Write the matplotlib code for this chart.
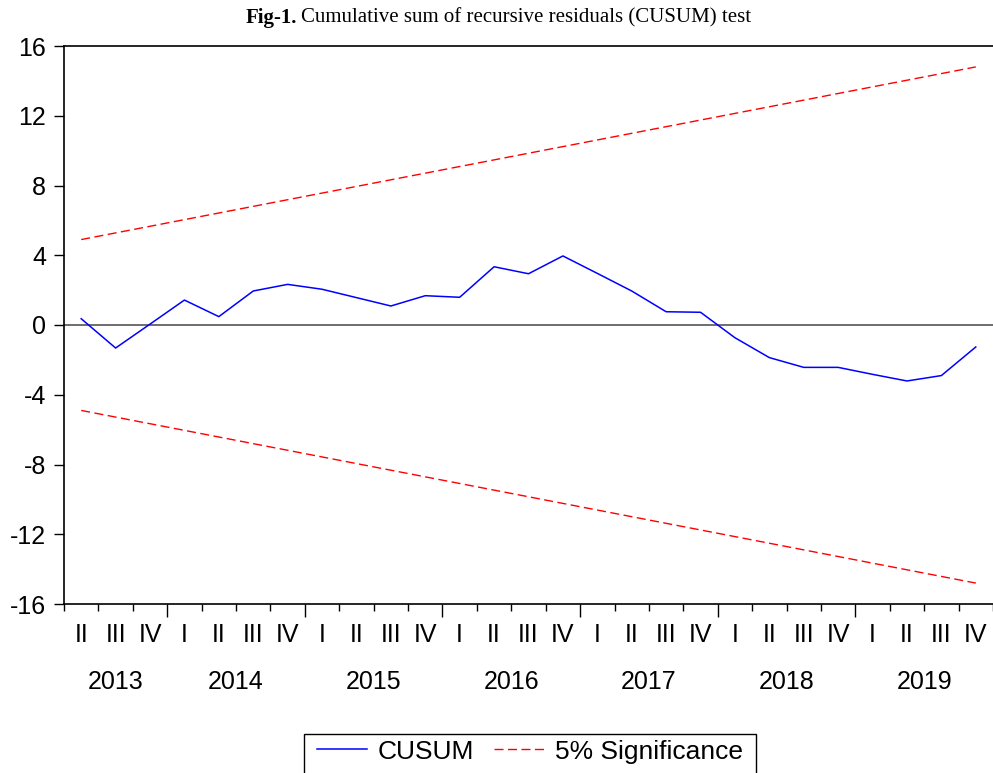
import matplotlib.pyplot as plt
from matplotlib.patches import Rectangle
from matplotlib.transforms import blended_transform_factory, offset_copy

plt.rcParams['font.family'] = ['Liberation Sans', 'DejaVu Sans']
plt.rcParams['axes.unicode_minus'] = False

# Quarterly CUSUM values, 2013Q2 .. 2019Q4
quarters = ['II', 'III', 'IV'] + ['I', 'II', 'III', 'IV'] * 6
years = ['2013', '2014', '2015', '2016', '2017', '2018', '2019']
cusum = [0.36, -1.32, 0.05, 1.43, 0.48, 1.95, 2.33, 2.05, 1.57, 1.09,
         1.68, 1.59, 3.34, 2.94, 3.96, 2.96, 1.95, 0.76, 0.73, -0.73,
         -1.87, -2.43, -2.43, -2.83, -3.21, -2.90, -1.26]
# 5% bounds (straight lines from first to last observation)
bound_idx = [0, 26]
upper = [4.9, 14.8]
lower = [-4.9, -14.8]

x = list(range(len(cusum)))

fig = plt.figure(figsize=(9.93, 7.73), dpi=100)
ax = fig.add_axes([64 / 993, 1 - 604 / 773, 1 - 64 / 993, (604 - 46) / 773])

dash = (0, (6.5, 3.2))
ax.axhline(0, color='#6e6e6e', lw=1.4, zorder=1)
ax.plot(x, cusum, color='#0000ff', lw=1.1, label='CUSUM', zorder=3)
ax.plot(bound_idx, upper, color='#ff0000', lw=1.0, ls=dash,
        label='5% Significance', zorder=2)
ax.plot(bound_idx, lower, color='#ff0000', lw=1.0, ls=dash, zorder=2)

ax.set_xlim(-0.5, len(cusum) - 0.5)
ax.set_ylim(-16, 16)
ax.set_yticks(range(-16, 17, 4))
ax.tick_params(axis='y', direction='out', length=7, width=1, labelsize=18, pad=6)

# x ticks at quarter boundaries, long ticks at year boundaries
year_starts = [i for i, q in enumerate(quarters) if q == 'I']
ax.set_xticks([i - 0.5 for i in year_starts])
ax.set_xticks([i - 0.5 for i in range(len(cusum) + 1)], minor=True)
ax.set_xticklabels([])
ax.tick_params(axis='x', which='major', direction='out', length=9, width=1)
ax.tick_params(axis='x', which='minor', direction='out', length=5, width=1)

ax.spines['right'].set_visible(False)
for s in ['left', 'top', 'bottom']:
    ax.spines[s].set_linewidth(1.2)

tr = blended_transform_factory(ax.transData, fig.transFigure)
for i, q in enumerate(quarters):
    ax.text(i, 1 - 635 / 773, q, transform=tr, ha='center', va='center',
            fontsize=18)
bounds = [-0.5] + [i - 0.5 for i in year_starts] + [len(cusum) - 0.5]
for k, yr in enumerate(years):
    cx = (bounds[k] + bounds[k + 1]) / 2
    ax.text(cx, 1 - 682 / 773, yr, transform=tr, ha='center', va='center',
            fontsize=18)

# title: bold "Fig-1." followed by regular text
t1 = fig.text(246 / 993, 1 - 18 / 773, 'Fig-1.', ha='left', va='center',
              fontsize=15, fontweight='bold', family='Liberation Serif')
fig.canvas.draw()
w = t1.get_window_extent().width
fig.text(246 / 993, 1 - 18 / 773, 'Cumulative sum of recursive residuals (CUSUM) test',
         ha='left', va='center', fontsize=15, family='Liberation Serif',
         transform=offset_copy(fig.transFigure, fig=fig, x=w + 4, units='dots'))

# legend, with a frame drawn by hand (wider side padding, runs off the bottom)
leg = fig.legend(loc='upper center', bbox_to_anchor=(530 / 993, 1 - 737 / 773),
                 ncol=2, fontsize=19, frameon=False,
                 handlelength=1.9, columnspacing=0.75, handletextpad=0.4,
                 borderpad=0.1, borderaxespad=0)
fig.canvas.draw()
bb = leg.get_window_extent()
fw, fh = fig.bbox.width, fig.bbox.height
x0 = bb.x0 - 11
fig.patches.append(Rectangle((x0 / fw, -0.02), (bb.width + 22) / fw,
                             (1 - 734 / 773) + 0.02, transform=fig.transFigure,
                             fill=False, edgecolor='black', lw=1.0))

fig.savefig('out.png', dpi=100)
